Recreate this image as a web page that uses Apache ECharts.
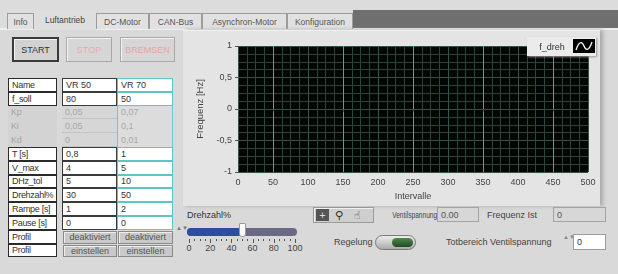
<!DOCTYPE html>
<html>
<head>
<meta charset="utf-8">
<script src="https://cdn.jsdelivr.net/npm/echarts@6/dist/echarts.min.js"></script>
<style>
body { margin: 0; width: 618px; height: 274px; overflow: hidden; background: #dcdcdc; position: relative;
       font-family: "Liberation Sans", Arial, sans-serif; font-size: 9px; color: #444; }
.a { position: absolute; box-sizing: border-box; white-space: nowrap; overflow: visible; }
.c { display: flex; align-items: center; justify-content: center; }
.l { display: flex; align-items: center; padding-left: 3px; }
</style>
</head>
<body>
<div id="ui"></div>
<div id="graph" class="a" style="left:183px; top:30px; width:417px; height:176px;"></div>

<script>
// ---- data ----
const tabs = ['Info', 'Luftantrieb', 'DC-Motor', 'CAN-Bus', 'Asynchron-Motor', 'Konfiguration']
const activeTab = 1
const paramNames = ['Name', 'f_soll', 'Kp', 'Ki', 'Kd', 'T [s]', 'V_max', 'DHz_tol', 'Drehzahl%', 'Rampe [s]', 'Pause [s]', 'Profil', 'Profil']
const vr50 = ['VR 50', '80', '0,05', '0,05', '0', '0,8', '4', '5', '30', '1', '0', 'deaktiviert', 'einstellen']
const vr70 = ['VR 70', '50', '0,07', '0,1', '0,01', '1', '5', '10', '50', '2', '0', 'deaktiviert', 'einstellen']
const disabledRows = [2, 3, 4]
const buttonRows = [11, 12]

const seriesName = 'f_dreh'
const fDreh = []            // graph is empty
const xRange = [0, 500]
const xStep = 50
const yRange = [-1, 1]
const yStep = 0.5

const sliderTicks = [0, 20, 40, 60, 80, 100]
const sliderValue = 50
const ventilspannung = '0.00'
const frequenzIst = '0'
const totbereich = '0'

// ---- static panel ----
const ui = document.getElementById('ui')
function box(x, y, w, h, style, text, cls) {
    const d = document.createElement('div')
    d.className = 'a ' + (cls || '')
    d.style.cssText = `left:${x}px;top:${y}px;width:${w}px;height:${h}px;` + (style || '')
    if (text !== undefined) d.textContent = text
    ui.appendChild(d)
    return d
}

// tab bar
box(353, 10, 265, 18, 'background:#6f6f6f;')
box(0, 28, 618, 246, 'background:#d9d9d9;border-top:2px solid #eeeeee;')
const tabX = [7, 34, 96, 149, 202, 287]
const tabW = [27, 62, 53, 53, 85, 66]
tabs.forEach((t, i) => {
    if (i === activeTab)
        box(tabX[i], 10, tabW[i], 20, 'background:#dedede;font-size:8.5px;color:#444;', t, 'c')
    else
        box(tabX[i], 13, tabW[i], 16, 'background:#e1e1e1;border:1px solid #9c9c9c;border-bottom:none;font-size:8.5px;color:#555;', t, 'c')
})

// buttons
box(12, 37, 47, 25, 'background:#d2d2d2;border:2px solid #3a3a3a;box-shadow:inset 1px 1px 0 #f4f4f4;color:#333;', 'START', 'c')
box(66, 37, 46, 25, 'background:#d6d6d6;border:1px solid #a9a9a9;box-shadow:inset 1px 1px 0 #f4f4f4;color:#f0a8a8;', 'STOP', 'c')
box(120, 37, 55, 25, 'background:#d6d6d6;border:1px solid #a9a9a9;box-shadow:inset 1px 1px 0 #f4f4f4;color:#eba4a4;', 'BREMSEN', 'c')

// parameter table
const rowTop = 78, rowH = 13.8
paramNames.forEach((n, i) => {
    const y = rowTop + i * rowH
    const dis = disabledRows.includes(i)
    box(8, y, 49, rowH, (dis ? 'background:#d3d3d3;color:#a4a4a4;' : 'background:#fff;border:1px solid #2a2a2a;color:#333;') + 'letter-spacing:-0.3px;', n, 'l')
    if (buttonRows.includes(i)) {
        box(63, y + 1, 54, rowH - 1, 'background:#c9c9c9;border:1px solid #8a8a8a;box-shadow:inset 1px 1px 0 #eee;color:#555;', vr50[i], 'c')
        box(118, y + 1, 55, rowH - 1, 'background:#c9c9c9;border:1px solid #8a8a8a;box-shadow:inset 1px 1px 0 #eee;color:#555;', vr70[i], 'c')
    } else {
        box(62, y, 55, rowH, dis ? 'background:#d6d6d6;color:#a8a8a8;border-bottom:1px solid #c4c4c4;' : 'background:#fff;border:1px solid #3a3a3a;color:#333;', vr50[i], 'l')
        box(117, y, 56, rowH, dis ? 'background:#dcdcdc;color:#a8a8a8;border-left:1px solid #6cc9c9;border-right:1px solid #6cc9c9;' : 'background:#fff;border:1px solid #5ec4c4;color:#333;', vr70[i], 'l')
    }
})

// graph panel frame + legend
box(183, 30, 417, 176, 'background:#e4e4e4;border-top:1px solid #f2f2f2;box-shadow:3px 0 4px #a8a8a8;')
box(527, 37, 69, 19, 'background:#ebebeb;box-shadow:1px 1px 2px #999;z-index:2;')
box(532, 37, 40, 19, 'z-index:3;color:#333;', seriesName, 'c')
const icon = box(573, 39, 22, 14, 'background:#000;z-index:3;')
icon.innerHTML = '<svg width="22" height="14"><path d="M3 11 C6 2,9 2,11 7 S16 12,19 3" stroke="#fff" stroke-width="1.3" fill="none"/></svg>'

// slider
box(184, 209, 60, 12, 'color:#333;', 'Drehzahl%', 'l')
box(176, 225, 6, 12, 'color:#777;font-size:6px;line-height:6px;', '▲▼')
const trackX = 189, trackW = 106
box(trackX - 2, 228, trackW + 4, 8, 'background:#6a6a86;border-radius:4px;')
box(trackX - 2, 228, trackW * sliderValue / 100 + 2, 8, 'background:#2d4e9e;border-radius:4px 0 0 4px;')
box(trackX + trackW * sliderValue / 100 - 3, 223, 7, 14, 'background:#fafafa;border:1px solid #999;border-radius:1px 1px 3px 3px;')
sliderTicks.forEach((t, i) => {
    const x = trackX + trackW * t / 100
    box(x - 10, 243, 20, 10, 'color:#444;', String(t), 'c')
    if (i < sliderTicks.length - 1)
        for (let k = 0; k < 4; k++) box(x + k * trackW / 20, 239, 1, k === 0 ? 4 : 2, 'background:#555;')
})
box(trackX + trackW, 239, 1, 4, 'background:#555;')

// graph palette
box(313, 207, 61, 16, 'background:#cfcfcf;border:1px solid #9a9a9a;box-shadow:inset 1px 1px 0 #f0f0f0;')
box(316, 209, 13, 12, 'background:#555;color:#ddd;font-size:11px;', '+', 'c')
box(332, 208, 14, 14, 'color:#333;font-size:11px;font-family:DejaVu Sans;', '⚲', 'c')
box(350, 208, 14, 14, 'color:#333;font-size:11px;font-family:DejaVu Sans;', '☝', 'c')

// indicators
box(390, 207, 62, 15, 'color:#444;transform:scaleX(0.73);transform-origin:0 50%;', 'Ventilspannung', 'l')
box(437, 207, 42, 15, 'background:#d7d7d7;border:1px solid #a4a4a4;color:#555;', ventilspannung, 'l')
box(484, 207, 66, 15, 'color:#444;', 'Frequenz Ist', 'l')
box(553, 207, 53, 15, 'background:#d7d7d7;border:1px solid #a4a4a4;color:#555;', frequenzIst, 'l')

box(331, 235, 44, 14, 'color:#444;', 'Regelung', 'l')
box(375, 235, 41, 15, 'background:linear-gradient(#eee,#aaa);border:1px solid #7a7a7a;border-radius:8px;')
box(392, 238, 21, 9, 'background:linear-gradient(#4f8a4f,#1f4a1f);border-radius:5px;')

box(443, 235, 118, 14, 'color:#444;', 'Totbereich Ventilspannung', 'l')
box(563, 234, 8, 16, 'color:#888;font-size:6px;line-height:7px;', '▲▼')
box(573, 234, 33, 16, 'background:#fff;border:1px solid #9c9c9c;color:#333;', totbereich, 'l')

// ---- chart ----
const minorColor = '#2c4539'
const majorColor = '#345443'
const brightColor = '#55a585'

const chart = echarts.init(document.getElementById('graph'), null, { renderer: 'canvas' })
chart.setOption({
    animation: false,
    grid: {
        left: 55, top: 16, width: 350, height: 127,
        show: true, backgroundColor: '#020604', borderWidth: 0,
    },
    xAxis: {
        type: 'value',
        min: xRange[0], max: xRange[1], interval: xStep,
        name: 'Intervalle', nameLocation: 'middle', nameGap: 20,
        nameTextStyle: { color: '#444', fontSize: 9, fontFamily: 'Liberation Sans' },
        axisLine: { show: false },
        axisTick: { show: true, length: 3, lineStyle: { color: '#555' } },
        axisLabel: { color: '#444', fontSize: 9, fontFamily: 'Liberation Sans', margin: 6 },
        splitLine: { show: true, lineStyle: { color: [majorColor, brightColor], width: 1 } },
        minorTick: { show: false, splitNumber: 4 },
        minorSplitLine: { show: true, lineStyle: { color: minorColor, width: 1 } },
    },
    yAxis: {
        type: 'value',
        min: yRange[0], max: yRange[1], interval: yStep,
        name: 'Frequenz [Hz]', nameLocation: 'middle', nameGap: 20,
        nameTextStyle: { color: '#444', fontSize: 9.5, fontFamily: 'Liberation Sans' },
        axisLine: { show: false },
        axisTick: { show: true, length: 3, lineStyle: { color: '#555' } },
        axisLabel: {
            color: '#444', fontSize: 9, fontFamily: 'Liberation Sans', margin: 6,
            formatter: v => String(v).replace('.', ','),
        },
        splitLine: { show: true, lineStyle: { color: majorColor, width: 1 } },
        minorTick: { show: false, splitNumber: 4 },
        minorSplitLine: { show: true, lineStyle: { color: minorColor, width: 1 } },
    },
    series: [{
        name: seriesName,
        type: 'line',
        data: fDreh,
        showSymbol: false,
        lineStyle: { color: '#ffffff', width: 1 },
    }],
})
</script>
</body>
</html>
